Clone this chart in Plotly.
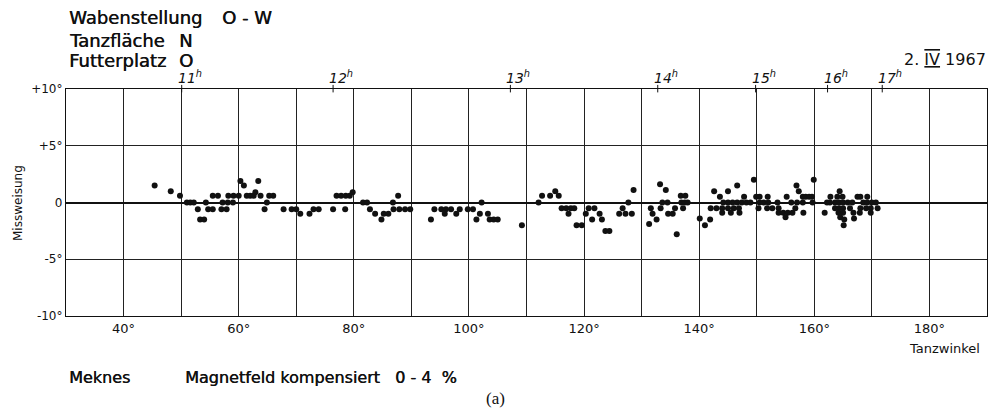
import plotly.graph_objects as go

# Dance angle (Tanzwinkel, degrees) and misdirection (Missweisung, degrees)
tanzwinkel = [
    45.4, 48.2, 49.8, 51.0, 51.6, 52.2, 52.9, 53.3, 54.0, 54.3,
    54.7, 55.5, 55.5, 56.4, 57.0, 57.9, 57.2, 58.1, 59.0, 58.2,
    59.1, 60.0, 60.3, 60.9, 61.4, 62.0, 62.6, 62.9, 63.4, 63.8,
    64.5, 64.9, 65.3, 66.0, 67.8, 69.2, 70.0, 70.7, 72.3, 73.0,
    73.9, 76.4, 78.5, 77.0, 77.8, 78.6, 79.3, 79.8, 81.6, 82.3,
    82.8, 83.7, 84.8, 85.2, 86.0, 86.8, 87.7, 86.9, 87.9, 88.9,
    89.8, 93.4, 94.0, 95.2, 96.0, 96.9, 95.8, 97.8, 98.4, 99.8,
    100.7, 101.3, 101.9, 102.2, 103.3, 103.6, 104.3, 105.0, 109.2, 112.1,
    112.7, 114.1, 115.0, 115.6, 116.1, 116.9, 117.7, 117.3, 118.3, 118.7,
    119.6, 120.3, 120.8, 121.4, 121.8, 122.7, 123.1, 123.7, 124.4, 126.1,
    126.7, 127.2, 127.7, 128.3, 128.6, 131.3, 131.6, 131.9, 132.6, 133.2,
    133.3, 134.2, 133.6, 134.5, 134.6, 135.4, 135.8, 136.1, 136.8, 137.6,
    136.9, 137.5, 138.0, 137.2, 140.1, 141.0, 141.9,
    142.0, 143.0, 144.0, 145.0, 146.0, 146.9, 142.6, 143.6,
    144.2, 145.0, 145.8, 146.6, 147.4, 148.2, 148.9,
    144.0, 145.5, 147.0, 145.0, 146.6, 147.8, 149.5, 149.9, 150.5, 150.3,
    151.9, 150.5, 151.2, 152.0, 151.8, 152.7, 153.8,
    153.8, 154.6, 155.4, 156.2, 155.0, 153.6, 155.2, 156.7,
    156.0, 157.0, 158.0, 156.9, 157.3, 158.1,
    158.0, 158.5, 159.1, 159.6, 159.9, 159.7, 161.8, 162.2, 162.7, 162.8,
    164.0, 164.9, 164.4, 163.6, 164.3, 165.0, 163.6, 164.3, 165.0,
    164.2, 165.0, 164.5, 165.2, 165.1, 166.2, 165.8, 166.6, 166.9, 166.8,
    167.5, 168.0, 168.0, 167.9, 168.5, 169.2, 170.0, 169.2, 169.0, 169.8,
    169.8, 170.7, 171.0,
]
missweisung = [
    1.5, 1.0, 0.6, 0.0, 0.0, 0.0, -0.6, -1.5, -1.5, 0.0,
    -0.6, -0.6, 0.6, 0.6, -0.6, -0.6, 0.0, 0.0, 0.0, 0.6,
    0.6, 0.6, 1.9, 1.5, 0.6, 0.6, 0.6, 0.9, 1.9, 0.6,
    -0.6, 0.0, 0.6, 0.6, -0.6, -0.6, -0.6, -1.0, -1.0, -0.6,
    -0.6, -0.6, -0.6, 0.6, 0.6, 0.6, 0.6, 0.9, 0.0, 0.0,
    -0.6, -1.0, -1.5, -1.0, -1.0, 0.0, 0.6, -0.6, -0.6, -0.6,
    -0.6, -1.5, -0.6, -0.6, -0.6, -0.6, -1.0, -1.0, -0.6, -0.6,
    -0.6, -1.5, -1.0, 0.0, -1.0, -1.5, -1.5, -1.5, -2.0, 0.0,
    0.6, 0.6, 1.0, 0.6, -0.5, -0.5, -0.5, -1.0, -0.5, -2.0,
    -2.0, -1.0, -0.5, -1.5, -0.5, -1.0, -1.5, -2.5, -2.5, -1.0,
    -0.5, -1.0, 0.0, -1.0, 1.1, -1.9, -0.5, -1.0, -1.5, 1.6,
    -0.5, 1.1, 0.0, 0.0, -1.0, -1.0, -0.5, -2.8, 0.6, 0.6,
    0.0, 0.0, 0.0, -0.5, -1.4, -2.0, -1.5,
    -0.5, -0.5, -0.5, -0.5, -0.5, -0.5, 1.0, 0.5,
    0.0, 0.0, 0.0, 0.0, 0.0, 0.0, 0.0,
    -0.9, -0.9, -0.9, 1.0, 1.5, 0.5, 2.0, 0.5, 0.5, -0.5,
    0.5, 0.0, 0.0, 0.0, -0.5, -0.5, -0.5,
    -0.9, -0.9, -0.9, -0.9, -1.3, 0.0, 0.5, -0.5,
    0.0, 0.0, 0.0, 1.5, 1.0, -0.9,
    0.5, 0.5, 0.5, 0.5, 2.0, 0.0, -0.9, 0.0, 0.0, 0.5,
    0.5, 0.5, 1.0, 0.0, 0.0, 0.0, -0.5, -0.5, -0.5,
    -0.9, -0.9, -1.3, -1.5, -2.0, -0.5, 0.0, 0.0, -1.4, -0.9,
    0.5, 0.5, -0.5, -0.9, 0.0, 0.0, 0.0, 0.5, -0.5, -0.5,
    -0.9, 0.0, -0.5,
]

# Clock times along the top edge, placed at the dance angle reached at that hour
stunden = ["11", "12", "13", "14", "15", "16", "17"]
stunden_winkel = [50.1, 76.4, 107.2, 132.8, 149.8, 162.3, 171.8]

x_gitter = list(range(40, 190, 10))
x_text = [f"{v}°" if v % 20 == 0 else "" for v in x_gitter]
y_werte = [-10, -5, 0, 5, 10]
y_text = ["-10°", "-5°", "0", "+5°", "+10°"]

W, H = 991, 410
L, R, T, B = 66, 4, 89, 94
PW, PH = W - L - R, H - T - B


def px(x):
    return (x - L) / PW


def py(y):
    return (H - B - y) / PH


FONT = "DejaVu Sans"
INK = "#111111"
# slight horizontal shadow gives the lettering a heavier pen stroke
PEN = "0.4px 0px 0px #111111"

fig = go.Figure()
fig.add_trace(go.Scatter(
    x=tanzwinkel, y=missweisung, mode="markers",
    marker=dict(size=6, color=INK, line=dict(width=0)),
    showlegend=False, hoverinfo="skip",
))

shapes = []
for w in stunden_winkel:
    shapes.append(dict(type="line", xref="x", yref="paper", x0=w, x1=w,
                       y0=0.985, y1=1.018, line=dict(color=INK, width=1)))

ann = []
for s, w in zip(stunden, stunden_winkel):
    ann.append(dict(x=w, y=1.0, xref="x", yref="paper", xanchor="left",
                    yanchor="bottom", xshift=-6, yshift=1, showarrow=False,
                    text=f"<i>{s}<sup>h</sup></i>",
                    font=dict(family=FONT, size=14, color=INK)))


def txt(text, x, y, size=17, xa="left", ya="middle", fam=FONT, angle=0,
        shadow=PEN):
    ann.append(dict(x=px(x), y=py(y), xref="paper", yref="paper",
                    xanchor=xa, yanchor=ya, showarrow=False, text=text,
                    textangle=angle,
                    font=dict(family=fam, size=size, color=INK,
                              shadow=shadow)))


txt("Wabenstellung", 67, 17, size=18)
txt("O - W", 220, 17, size=18)
txt("Tanzfläche", 67, 40, size=18)
txt("N", 177, 40, size=18)
txt("Futterplatz", 67, 61, size=18)
txt("O", 177, 61, size=18)
txt("2. <span style='text-decoration:overline underline'>IV</span> 1967",
    988, 60, size=16, xa="right", shadow="none")
txt("Missweisung", 18, 203, size=12, xa="center", angle=-90, shadow="none")
txt("Tanzwinkel", 944, 348, size=13, xa="center", shadow="none")
txt("Meknes", 67, 377, size=16)
txt("Magnetfeld kompensiert", 183, 377, size=16)
txt("0 -&nbsp;4&nbsp;&nbsp;%", 393, 377, size=16)
txt("(a)", 495, 398, size=17, xa="center", fam="Liberation Serif",
    shadow="none")

fig.update_layout(
    width=W, height=H,
    margin=dict(l=L, r=R, t=T, b=B, pad=0),
    paper_bgcolor="white", plot_bgcolor="white",
    shapes=shapes, annotations=ann,
    xaxis=dict(range=[30, 190], tickmode="array", tickvals=x_gitter,
               ticktext=x_text, showgrid=True, gridcolor="#222222",
               gridwidth=1, zeroline=False, showline=True, linecolor=INK,
               linewidth=1.2, mirror=True, ticks="",
               tickfont=dict(family=FONT, size=13, color=INK)),
    yaxis=dict(range=[-10, 10], tickmode="array", tickvals=y_werte,
               ticktext=y_text, showgrid=True, gridcolor="#222222",
               gridwidth=1, zeroline=True, zerolinecolor=INK,
               zerolinewidth=2, showline=True, linecolor=INK,
               linewidth=1.2, mirror=True, ticks="",
               tickfont=dict(family=FONT, size=12, color=INK)),
)

fig.write_html("out.html")
